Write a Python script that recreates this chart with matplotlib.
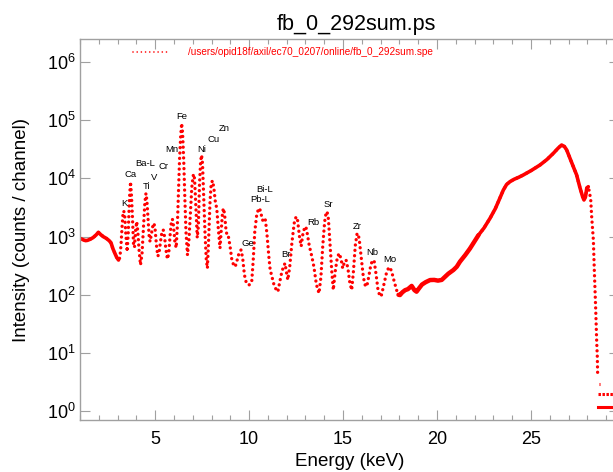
import numpy as np
import matplotlib.pyplot as plt
from matplotlib.lines import Line2D
from matplotlib.ticker import MultipleLocator, NullLocator, FixedLocator

plt.rcParams['font.family'] = ['Liberation Sans', 'DejaVu Sans']
plt.rcParams['mathtext.fontset'] = 'custom'
plt.rcParams['mathtext.rm'] = 'Liberation Sans'

# spectrum (energy in keV, counts per channel)
energy = [1.00, 1.10, 1.20, 1.30, 1.40, 1.55, 1.70, 1.85, 1.98, 2.10, 2.25, 2.40, 2.55, 2.65, 2.75, 2.85, 2.95, 3.05,
          3.12, 3.18, 3.24, 3.29, 3.33, 3.38, 3.43, 3.51, 3.57, 3.63, 3.69, 3.74, 3.79, 3.85, 3.90, 3.96, 4.02, 4.08,
          4.14, 4.22, 4.30, 4.38, 4.45, 4.51, 4.56, 4.62, 4.68, 4.73, 4.80, 4.88, 4.94, 5.00, 5.07, 5.14, 5.20, 5.28,
          5.36, 5.43, 5.50, 5.57, 5.65, 5.72, 5.80, 5.87, 5.92, 5.98, 6.05, 6.12, 6.18, 6.24, 6.30, 6.36, 6.41, 6.46,
          6.52, 6.58, 6.64, 6.72, 6.80, 6.88, 6.95, 7.02, 7.06, 7.10, 7.16, 7.24, 7.30, 7.36, 7.42, 7.47, 7.52, 7.58,
          7.65, 7.72, 7.78, 7.84, 7.92, 7.98, 8.05, 8.12, 8.20, 8.28, 8.35, 8.45, 8.52, 8.58, 8.63, 8.69, 8.76, 8.83,
          8.90, 8.98, 9.08, 9.18, 9.26, 9.35, 9.45, 9.57, 9.66, 9.75, 9.85, 9.96, 10.05, 10.14, 10.22, 10.30, 10.40,
          10.50, 10.56, 10.64, 10.72, 10.80, 10.87, 10.95, 11.05, 11.12, 11.22, 11.32, 11.45, 11.53, 11.62, 11.72,
          11.82, 11.91, 11.98, 12.06, 12.16, 12.28, 12.40, 12.50, 12.58, 12.68, 12.77, 12.86, 12.96, 13.02, 13.10,
          13.20, 13.34, 13.45, 13.58, 13.72, 13.82, 13.92, 14.02, 14.10, 14.15, 14.22, 14.30, 14.40, 14.48, 14.58,
          14.70, 14.80, 14.90, 14.98, 15.08, 15.16, 15.26, 15.36, 15.46, 15.55, 15.65, 15.74, 15.79, 15.86, 15.96,
          16.08, 16.18, 16.26, 16.36, 16.48, 16.58, 16.66, 16.76, 16.86, 16.97, 17.05, 17.15, 17.30, 17.42, 17.50,
          17.60, 17.72, 17.85, 17.95, 18.03, 18.15, 18.30, 18.45, 18.65, 18.80, 18.91, 19.05, 19.20, 19.40, 19.63,
          19.85, 20.05, 20.25, 20.40, 20.60, 20.87, 21.05, 21.22, 21.50, 21.75, 21.93, 22.20, 22.50, 22.82, 23.10,
          23.35, 23.53, 23.70, 23.88, 24.10, 24.35, 24.59, 25.00, 25.48, 25.85, 26.19, 26.45, 26.63, 26.78, 26.90,
          27.10, 27.28, 27.43, 27.60, 27.75, 27.82, 27.90, 27.97, 28.05, 28.12, 28.18, 28.23, 28.28, 28.32, 28.37,
          28.41, 28.44, 28.50, 28.53, 28.55]
counts = [930, 900, 870, 850, 860, 900, 960, 1060, 1180, 1080, 990, 930, 850, 780, 620, 520, 440, 395,
          430, 700, 1500, 2500, 2740, 2300, 1200, 550, 1200, 4500, 8700, 5000, 2200, 700, 650, 1300, 1800, 1200,
          600, 325, 500, 1500, 3800, 5500, 4200, 2000, 1000, 815, 1100, 1550, 1690, 1300, 700, 460, 500, 800,
          1200, 1300, 1000, 600, 411, 500, 1100, 1900, 1975, 1500, 800, 640, 1500, 6000, 22000, 55000, 87700, 60000,
          20000, 4500, 1200, 480, 900, 2800, 7000, 11000, 11800, 9500, 3500, 950, 1500, 8000, 20000, 25000, 18000, 5000,
          1200, 400, 285, 800, 4000, 8000, 9100, 7000, 4000, 3000, 1500, 630, 1300, 2500, 3050, 2500, 1400, 1000,
          990, 700, 400, 320, 303, 380, 500, 590, 420, 220, 160, 147, 150, 170, 400, 1200, 2300,
          3000, 3050, 2400, 1900, 2100, 1900, 1100, 450, 270, 200, 150, 120, 113, 160, 230,
          300, 347, 250, 180, 300, 800, 1700, 2190, 1900, 1000, 680, 1100, 1450, 1475, 1100,
          700, 450, 300, 150, 106, 200, 700, 1800, 2600, 2670, 2000, 800, 250, 121, 250,
          450, 515, 400, 285, 370, 395, 280, 160, 121, 250, 700, 1100, 1135, 900, 450,
          200, 145, 138, 200, 330, 395, 370, 220, 120, 93, 100, 140, 230, 290, 296,
          240, 170, 120, 100, 99, 110, 120, 125, 142, 120, 113, 130, 150, 165, 179,
          180, 175, 180, 200, 230, 266, 303, 370, 480, 620, 765, 1050, 1400, 2055, 3000,
          4600, 6290, 7800, 8730, 9600, 10400, 11380, 13500, 16900, 21000, 26800, 33000, 37200, 35000, 30600,
          21000, 15000, 11380, 7000, 4800, 4240, 4800, 6800, 7160, 5600, 4240, 2190, 1300, 871, 266,
          120, 62, 14.7, 8.6, 3.9]

# tail of single counts beyond the cutoff
tail_level = [1.2, 2.0, 3.0]
tail_start = [28.56, 28.57, 28.62]
tail_end = [29.8, 29.8, 28.68]

# element labels
label_names = ['Fe', 'Mn', 'Ni', 'Cu', 'Zn', 'Ba-L', 'Cr', 'Ca', 'V', 'Ti', 'K',
               'Bi-L', 'Pb-L', 'Ge', 'Br', 'Rb', 'Sr', 'Zr', 'Nb', 'Mo']
label_energy = [6.44, 5.90, 7.48, 8.10, 8.67, 4.45, 5.43, 3.69, 4.95, 4.54, 3.34,
                10.85, 10.59, 9.91, 11.95, 13.42, 14.19, 15.73, 16.53, 17.50]
label_logc = [5.057, 4.497, 4.497, 4.657, 4.846, 4.257, 4.210, 4.056, 4.016, 3.855, 3.570,
              3.799, 3.627, 2.884, 2.683, 3.237, 3.553, 3.169, 2.722, 2.609]

x_ticks = [5, 10, 15, 20, 25]
y_ticks = [1, 10, 100, 1000, 1e4, 1e5, 1e6]

energy = np.array(energy)
counts = np.array(counts)

fig = plt.figure(figsize=(6.13, 4.72), dpi=100)
ax = fig.add_axes([80/613, 52/472, 539.3/613, 381/472])

red = '#ff0000'
ax.plot(energy, counts, color=red, lw=2.4, linestyle=(0, (0.01, 1.6)), dash_capstyle='round')
# noisy low-slope parts look like a solid band
for lo, hi, w in [(1.0, 3.06, 2.6), (17.9, 22.3, 3.2), (22.2, 28.1, 2.6)]:
    m = (energy >= lo) & (energy <= hi)
    ax.plot(energy[m], counts[m], color=red, lw=w, solid_capstyle='round')
for lev, a, b in zip(tail_level, tail_start, tail_end):
    if lev < 1.5:
        ax.plot([a, b], [lev, lev], color=red, lw=2.2)
    else:
        ax.plot([a, b], [lev, lev], color=red, lw=2.2, linestyle=(0, (0.8, 0.5)))

for name, e, lc in zip(label_names, label_energy, label_logc):
    ax.text(e, 10**lc, name, ha='center', va='center', fontsize=6.8, color='black')

ax.set_yscale('log')
ax.set_xlim(1.0, 29.7)
ax.set_ylim(10**-0.149, 10**6.39)
ax.xaxis.set_major_locator(FixedLocator(x_ticks))
ax.xaxis.set_minor_locator(MultipleLocator(1))
ax.yaxis.set_major_locator(FixedLocator(y_ticks))
ax.yaxis.set_minor_locator(NullLocator())

gray = '#a0a0a0'
for s in ax.spines.values():
    s.set_color(gray)
    s.set_linewidth(1)
ax.tick_params(which='both', direction='in', top=True, right=True, color=gray, width=0.8)
ax.tick_params(which='major', length=7.5, labelsize=13)
ax.tick_params(which='minor', length=3.5)
ax.tick_params(axis='x', pad=8)
ax.tick_params(axis='y', pad=3)

ax.set_xlabel('Energy (keV)', fontsize=13.5)
ax.xaxis.label.set_va('center')
ax.xaxis.set_label_coords(0.5, -0.109)
ax.set_ylabel('Intensity (counts / channel)', fontsize=13.5)
ax.yaxis.label.set_va('center')
ax.yaxis.set_label_coords(-0.108, 0.5)

fig.text(356/613, 1 - 30/472, 'fb_0_292sum.ps', fontsize=15.5, ha='center', va='baseline')

fig.add_artist(Line2D([133/613, 170/613], [1 - 52/472, 1 - 52/472], color=red, lw=1.2,
                      linestyle=(0, (0.01, 2.5)), dash_capstyle='round'))
fig.text(188/613, 1 - 52/472, '/users/opid18f/axil/ec70_0207/online/fb_0_292sum.spe',
         color=red, fontsize=7.2, ha='left', va='center')

fig.savefig('out.png', dpi=100)
